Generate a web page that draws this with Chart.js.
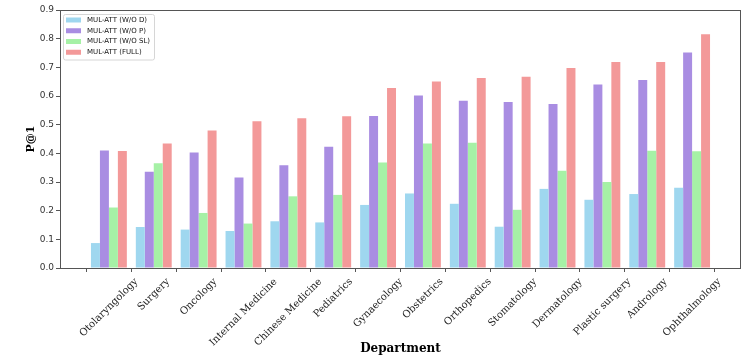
<!DOCTYPE html>
<html><head><meta charset="utf-8">
<script src="https://cdn.jsdelivr.net/npm/chart.js@4.4.1/dist/chart.umd.min.js"></script>
<style>html,body{margin:0;padding:0;background:#fff}</style>
</head><body>
<canvas id="c" width="747" height="363" style="display:block;width:747px;height:363px"></canvas>
<script>
const categories = ['Otolaryngology', 'Surgery', 'Oncology', 'Internal Medicine', 'Chinese Medicine',
  'Pediatrics', 'Gynaecology', 'Obstetrics', 'Orthopedics', 'Stomatology', 'Dermatology',
  'Plastic surgery', 'Andrology', 'Ophthalmology'];
const seriesNames = ['MUL-ATT (W/O D)', 'MUL-ATT (W/O P)', 'MUL-ATT (W/O SL)', 'MUL-ATT (FULL)'];
const woD  = [0.087, 0.143, 0.134, 0.129, 0.163, 0.159, 0.220, 0.260, 0.224, 0.144, 0.276, 0.238, 0.258, 0.280];
const woP  = [0.410, 0.336, 0.403, 0.316, 0.358, 0.423, 0.530, 0.602, 0.583, 0.579, 0.572, 0.640, 0.656, 0.752];
const woSL = [0.211, 0.365, 0.192, 0.155, 0.250, 0.255, 0.368, 0.434, 0.437, 0.203, 0.339, 0.300, 0.409, 0.407];
const full = [0.408, 0.434, 0.480, 0.512, 0.522, 0.529, 0.628, 0.651, 0.663, 0.667, 0.698, 0.719, 0.719, 0.815];
const yTickValues = [0, 0.1, 0.2, 0.3, 0.4, 0.5, 0.6, 0.7, 0.8, 0.9];
const seriesColors = ['#9fd7ef', '#a98de2', '#a6f1a6', '#f39999'];

const allSeries = [woD, woP, woSL, full];
const datasets = allSeries.map((vals, k) => ({
  label: seriesNames[k],
  data: vals.map((v, i) => ({x: i, y: v})),
  backgroundColor: seriesColors[k],
  borderWidth: 0,
  categoryPercentage: 0.8,
  barPercentage: 1.0
}));

const centerRotatedLabels = {
  id: 'centerRotatedLabels',
  beforeDraw(chart) {
    const s = chart.scales.x;
    const items = s.getLabelItems();
    const ctx = chart.ctx;
    items.forEach((it, i) => {
      ctx.save();
      ctx.font = it.font.string;
      const L = ctx.measureText(it.label).width;
      ctx.restore();
      const h = it.font.size * 1.17;
      const ext = (L + h) * Math.SQRT1_2;
      it.options.textAlign = 'center';
      it.options.textBaseline = 'middle';
      it.options.translation = [s.getPixelForTick(i), s.top + 8 + ext / 2];
      it.textOffset = 0;
    });
  }
};

const frame = {
  id: 'frame',
  afterDatasetsDraw(chart) {
    const a = chart.chartArea, ctx = chart.ctx;
    ctx.save();
    ctx.strokeStyle = '#555';
    ctx.lineWidth = 1;
    ctx.strokeRect(Math.round(a.left) + 0.5, Math.round(a.top) + 0.5,
      Math.round(a.right - a.left) - 1, Math.round(a.bottom - a.top));
    ctx.restore();
  }
};

const boxLegend = {
  id: 'boxLegend',
  afterDraw(chart) {
    const a = chart.chartArea, ctx = chart.ctx;
    const x0 = a.left + 3, y0 = a.top + 4, w = 91, h = 45.5;
    ctx.save();
    ctx.beginPath();
    ctx.roundRect(x0 + 0.5, y0 + 0.5, w, h, 2);
    ctx.fillStyle = 'rgba(255,255,255,0.8)';
    ctx.fill();
    ctx.strokeStyle = '#d6d6d6';
    ctx.lineWidth = 1;
    ctx.stroke();
    ctx.font = '7px "DejaVu Sans"';
    ctx.textBaseline = 'middle';
    ctx.textAlign = 'left';
    chart.data.datasets.forEach((ds, i) => {
      const cy = y0 + 6 + i * 10.75;
      ctx.fillStyle = ds.backgroundColor;
      ctx.fillRect(x0 + 3, cy - 2.5, 15, 5);
      ctx.fillStyle = '#111';
      ctx.fillText(ds.label, x0 + 24, cy);
    });
    ctx.restore();
  }
};

new Chart(document.getElementById('c'), {
  type: 'bar',
  data: { datasets },
  options: {
    responsive: false,
    animation: false,
    devicePixelRatio: 1,
    layout: { padding: { top: 10, right: 6, left: 0, bottom: 0 } },
    plugins: { legend: { display: false }, tooltip: { enabled: false } },
    scales: {
      x: {
        type: 'linear',
        offset: false,
        bounds: 'data',
        min: -1.09,
        max: 14.09,
        afterBuildTicks: (s) => { s.ticks = categories.map((_, i) => ({ value: i })); },
        afterFit: (s) => { s.height = 95; },
        border: { display: false },
        grid: { drawOnChartArea: false, drawTicks: true, tickLength: 4, color: '#555' },
        ticks: {
          autoSkip: false, minRotation: 45, maxRotation: 45, padding: 3,
          color: '#222',
          font: { family: '"DejaVu Serif"', size: 10 },
          callback: (v, i) => categories[i]
        },
        title: {
          display: true, text: 'Department', color: '#000',
          font: { family: '"DejaVu Serif"', size: 12, weight: 'bold' },
          padding: { top: 0, bottom: 7 }
        }
      },
      y: {
        min: 0, max: 0.9,
        afterBuildTicks: (s) => { s.ticks = yTickValues.map(v => ({ value: v })); },
        afterFit: (s) => { s.width = 60; },
        border: { display: false },
        grid: { drawOnChartArea: false, drawTicks: true, tickLength: 4, color: '#555' },
        ticks: {
          padding: 2, color: '#333',
          font: { family: '"DejaVu Sans"', size: 9 },
          callback: (v) => Number(v).toFixed(1)
        },
        title: {
          display: true, text: 'P@1', color: '#000',
          font: { family: '"DejaVu Serif"', size: 11, weight: 'bold' },
          padding: { top: 25, bottom: 0 }
        }
      }
    }
  },
  plugins: [centerRotatedLabels, frame, boxLegend]
});
</script>
</body></html>
